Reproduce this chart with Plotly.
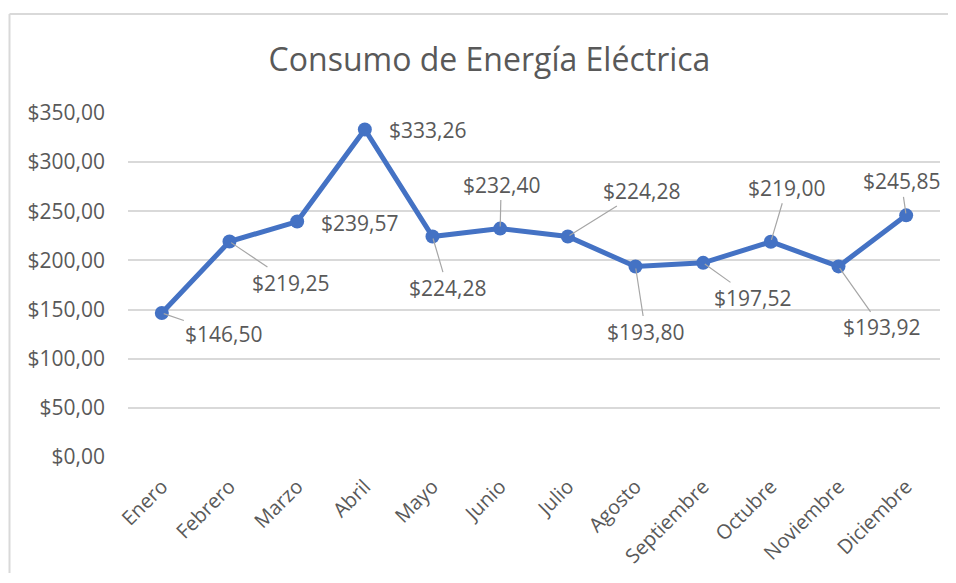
import plotly.graph_objects as go

# --- Data -------------------------------------------------------------------
MESES = ["Enero", "Febrero", "Marzo", "Abril", "Mayo", "Junio", "Julio",
         "Agosto", "Septiembre", "Octubre", "Noviembre", "Diciembre"]
CONSUMO = [146.50, 219.25, 239.57, 333.26, 224.28, 232.40, 224.28,
           193.80, 197.52, 219.00, 193.92, 245.85]
Y_TICKS = [0, 50, 100, 150, 200, 250, 300, 350]

# label offsets (pixels) relative to each point, and whether a leader line shows
LABEL_OFFSETS = [(62, 21), (61, 41), (62, 1), (63, 1), (15, 51), (1, -44),
                 (74, -46), (10, 65), (49, 35), (16, -54), (43, 61), (-5, -34)]
LEADER = [True, True, False, False, True, True, True, True, True, True, True, True]

# --- Style ------------------------------------------------------------------
FONT = "Open Sans, DejaVu Sans, sans-serif"
INK = "#595959"
GRID = "#d9d9d9"
LINE = "#4472c4"

# page body adds an 8px margin all round; figure is kept small enough not to scroll
W, H = 944, 565
L, T, R, B = 120, 105, 12, 116
PW, PH = W - L - R, H - T - B


def money(v: float) -> str:
    return "$" + f"{v:,.2f}".replace(",", "X").replace(".", ",").replace("X", ".")


def px_x(p):  # figure px -> paper x
    return (p - L) / PW


def px_y(p):  # figure px (from top) -> paper y
    return (T + PH - p) / PH


fig = go.Figure()
fig.add_trace(go.Scatter(
    x=MESES, y=CONSUMO, mode="lines+markers",
    line=dict(color=LINE, width=5),
    marker=dict(color=LINE, size=14),
    hovertemplate="%{x}: $%{y:.2f}<extra></extra>"))

for mes, val, (ax, ay), lead in zip(MESES, CONSUMO, LABEL_OFFSETS, LEADER):
    fig.add_annotation(
        x=mes, y=val, xref="x", yref="y", text=money(val),
        showarrow=True, arrowhead=0, arrowwidth=1.2,
        arrowcolor="#a6a6a6" if lead else "rgba(0,0,0,0)",
        ax=ax, ay=ay, standoff=2,
        font=dict(family=FONT, size=21, color=INK))

fig.update_layout(
    width=W, height=H,
    paper_bgcolor="white", plot_bgcolor="white",
    margin=dict(l=L, r=R, t=T, b=B),
    showlegend=False,
    font=dict(family=FONT, color=INK, size=20),
    title=dict(text="Consumo de Energía Eléctrica", x=481.5 / W, xanchor="center",
               y=1 - 52 / H, yanchor="middle",
               font=dict(family=FONT, size=32, color=INK)),
)
fig.update_xaxes(type="category", range=[-0.5, 11.5], showgrid=False,
                 showline=False, zeroline=False, tickangle=-45, automargin=False,
                 tickfont=dict(size=20, color=INK), ticklabelstandoff=13)
fig.update_yaxes(range=[0, 350], tickvals=Y_TICKS,
                 ticktext=[money(v) for v in Y_TICKS], automargin=False,
                 showgrid=True, gridcolor=GRID, gridwidth=1.5,
                 zeroline=False, showline=False, ticks="",
                 tickfont=dict(size=21, color=INK), ticklabelstandoff=22)

# chart-area border (Excel style): only top and left edges are in view
border = dict(color=GRID, width=2)
fig.add_shape(type="line", xref="paper", yref="paper",
              x0=px_x(1.5), x1=px_x(1000), y0=px_y(6), y1=px_y(6),
              line=border, layer="below")
fig.add_shape(type="line", xref="paper", yref="paper",
              x0=px_x(1.5), x1=px_x(1.5), y0=px_y(6), y1=px_y(640),
              line=border, layer="below")

fig.write_html("out.html")
